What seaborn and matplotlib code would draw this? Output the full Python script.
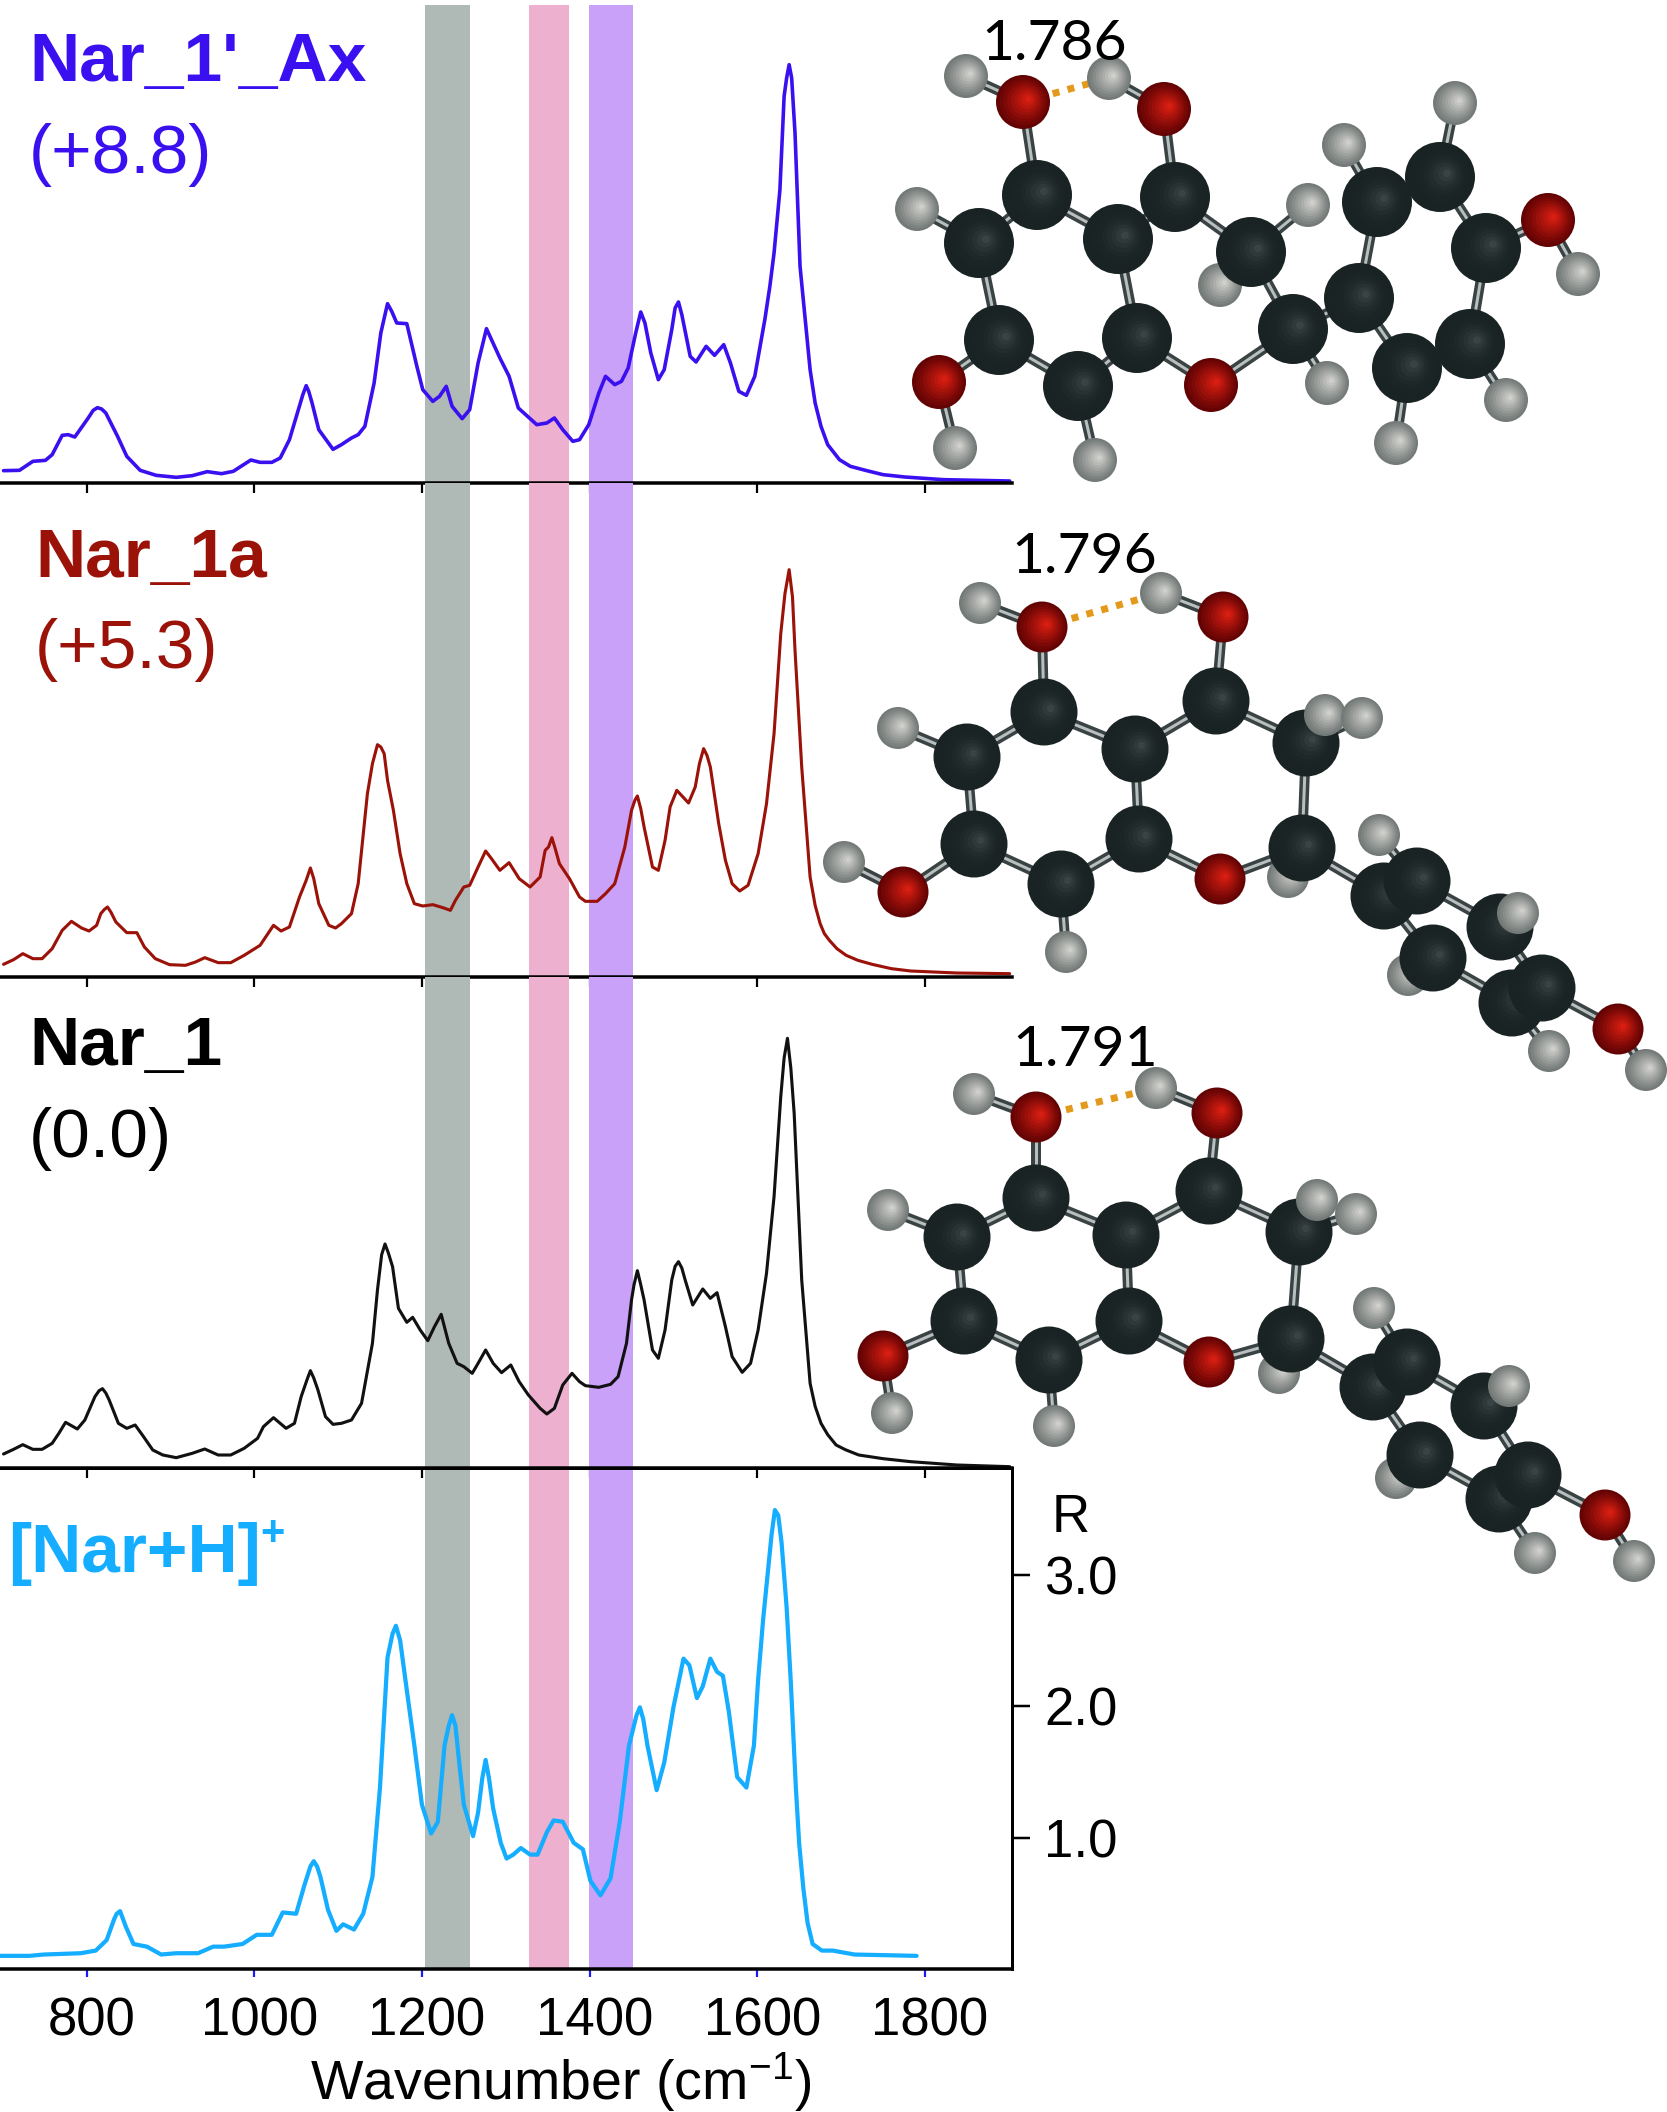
import numpy as np
import seaborn as sns
import matplotlib.pyplot as plt
from matplotlib.patches import Circle
from matplotlib.transforms import ScaledTranslation

# spectra, computed panels in arbitrary units
wn_ax = [701,720,736,751,759,771,778,786,802,808,813,818,823,837,848,864,883,907,926,944,961,975,996,1007,1021,1031,1042,1058,1062,1065,1069,1077,1094,1104,1116,1124,1132,1143,1151,1159,1164,1170,1182,1194,1201,1213,1221,1229,1236,1248,1257,1267,1277,1293,1304,1315,1337,1349,1358,1368,1380,1388,1399,1411,1419,1430,1438,1446,1455,1461,1466,1473,1482,1489,1498,1502,1506,1510,1520,1527,1539,1549,1560,1568,1578,1587,1597,1609,1615,1620,1627,1632,1635,1638,1641,1645,1651,1663,1669,1676,1684,1698,1711,1729,1750,1776,1822,1901]
int_ax = [37,38,65,68,85,143,145,138,195,218,226,222,210,140,80,38,23,17,22,34,28,35,69,62,62,75,130,265,292,275,240,160,101,115,135,145,170,300,450,538,515,480,478,350,280,245,260,290,230,193,220,360,463,375,320,225,175,180,195,160,125,130,175,270,320,295,305,345,450,513,480,390,310,340,460,525,543,505,380,363,410,383,415,360,275,263,320,490,590,690,880,1160,1215,1255,1215,1050,650,340,240,170,115,70,50,38,25,18,10,6]

wn_1a = [701,713,724,736,747,759,771,782,794,803,812,817,821,825,829,835,848,860,869,882,899,918,930,941,957,972,988,1000,1007,1023,1032,1042,1054,1062,1067,1071,1077,1089,1097,1104,1116,1124,1135,1141,1147,1151,1155,1159,1166,1174,1182,1191,1201,1213,1225,1234,1240,1250,1257,1267,1276,1283,1293,1304,1316,1329,1341,1347,1351,1355,1359,1364,1376,1388,1395,1409,1419,1430,1442,1450,1454,1457,1461,1465,1475,1482,1490,1496,1504,1518,1526,1531,1536,1540,1544,1554,1562,1570,1579,1589,1601,1611,1620,1628,1633,1638,1642,1645,1653,1663,1669,1675,1680,1686,1695,1706,1720,1737,1760,1783,1838,1901]
int_1a = [38,52,70,55,55,85,140,167,147,138,155,190,202,210,195,165,133,133,90,55,37,35,45,58,43,43,65,84,95,155,138,150,240,290,327,295,220,155,147,160,190,280,550,640,697,690,670,590,500,370,280,220,213,217,208,200,230,270,275,330,378,355,320,343,295,270,300,380,390,418,385,340,295,240,227,227,250,280,390,500,530,543,505,450,330,320,410,510,560,522,570,640,685,665,630,460,350,280,258,275,370,520,730,1030,1150,1222,1140,980,630,300,215,160,130,110,85,65,50,38,25,18,12,10]

wn_1 = [701,713,724,736,747,759,767,775,789,798,810,815,819,823,827,838,848,858,868,879,891,907,926,941,957,972,988,1004,1011,1023,1038,1048,1056,1063,1067,1071,1076,1085,1094,1104,1116,1128,1141,1147,1152,1156,1160,1165,1172,1182,1189,1198,1207,1215,1223,1232,1242,1250,1260,1267,1276,1285,1295,1306,1316,1327,1341,1349,1358,1368,1379,1388,1395,1411,1425,1434,1444,1450,1453,1457,1461,1465,1475,1482,1490,1498,1502,1506,1510,1514,1523,1535,1544,1552,1562,1570,1582,1592,1601,1611,1620,1628,1632,1636,1640,1644,1653,1663,1669,1676,1684,1694,1705,1721,1750,1783,1838,1901]
int_1 = [42,56,70,56,56,74,104,137,117,144,214,232,238,225,204,134,119,129,94,54,39,31,44,57,39,39,59,89,124,151,119,134,214,265,292,270,234,154,131,134,144,194,374,534,640,672,645,604,479,437,452,414,382,424,461,374,314,304,284,314,354,314,286,309,259,219,179,162,179,249,284,259,247,242,251,274,374,504,550,592,550,504,354,329,414,564,605,619,600,564,489,537,509,526,424,334,287,314,414,584,814,1114,1230,1289,1200,1064,564,254,185,134,100,69,55,39,28,19,9,4]

# measured spectrum, R
wn_h = [697,732,749,793,811,824,833,836,840,847,856,872,889,907,933,951,964,986,1003,1021,1034,1050,1060,1067,1071,1075,1079,1088,1098,1106,1119,1130,1141,1150,1159,1165,1169,1174,1182,1191,1200,1211,1219,1227,1232,1236,1240,1244,1250,1261,1267,1272,1276,1280,1285,1294,1301,1309,1318,1329,1338,1349,1357,1368,1381,1392,1401,1413,1425,1436,1447,1456,1460,1464,1469,1480,1489,1500,1512,1519,1528,1535,1544,1552,1559,1566,1576,1587,1596,1601,1607,1617,1621,1625,1629,1635,1640,1646,1650,1655,1660,1666,1677,1690,1716,1790]
r_h = [0.10,0.10,0.11,0.12,0.14,0.22,0.38,0.42,0.44,0.32,0.19,0.17,0.11,0.12,0.12,0.17,0.17,0.19,0.26,0.26,0.43,0.42,0.64,0.78,0.82,0.78,0.70,0.45,0.29,0.34,0.30,0.42,0.70,1.38,2.37,2.55,2.61,2.50,2.12,1.70,1.25,1.03,1.12,1.70,1.85,1.93,1.85,1.60,1.25,1.01,1.19,1.45,1.59,1.45,1.22,0.96,0.84,0.87,0.92,0.87,0.87,1.04,1.13,1.12,0.96,0.91,0.67,0.56,0.69,1.12,1.70,1.93,1.99,1.90,1.70,1.36,1.57,1.99,2.36,2.31,2.06,2.15,2.36,2.26,2.23,1.96,1.46,1.38,1.70,2.20,2.66,3.30,3.49,3.45,3.24,2.75,2.18,1.38,0.95,0.61,0.35,0.19,0.14,0.14,0.11,0.10]

bands = [(1204, 1257, '#afb9b5'), (1328, 1376, '#eeb0cf'), (1399, 1452, '#c9a1f8')]
x_ticks = [800, 1000, 1200, 1400, 1600, 1800]
r_ticks = [1, 2, 3]

# molecule pictures, atoms in draw order
kinds = list('HOHOHCCCCCHHCCHCOCOHHHCCCHHCCCOHH')
kinds_ax = list('HOHOHHHHCCOHCCCCCHHOCCHCOHCHCCCCH')
mol_ax = [(966,76),(1023,102),(1109,78),(1164,109),(1455,103),(1344,145),(1220,285),(1327,383),(1440,177),(1377,202),(1548,220),(1578,274),(1486,248),(1359,298),(1293,329),(1470,344),(1407,368),(1506,400),(1396,443),(1211,385),(1137,338),(1078,386),(1095,460),(999,340),(939,382),(955,448),(979,243),(917,209),(1037,195),(1118,239),(1175,197),(1251,252),(1308,205)]
bonds_ax = [(0,1),(1,28),(2,3),(3,30),(4,8),(5,9),(6,31),(7,14),(8,9),(8,12),(9,13),(10,12),(10,11),(12,15),(13,14),(13,16),(15,16),(15,17),(16,18),(14,19),(14,31),(19,20),(20,21),(21,22),(21,23),(23,24),(24,25),(23,26),(26,27),(26,28),(28,29),(29,30),(29,20),(30,31),(31,32)]
mol_1a = [(980,603),(1042,627),(1161,593),(1223,617),(898,728),(1044,712),(1216,701),(967,757),(1135,749),(1306,743),(1325,715),(1362,718),(974,844),(1139,839),(1288,877),(1302,848),(1220,879),(1061,884),(903,892),(844,862),(1066,952),(1379,835),(1384,896),(1417,881),(1500,927),(1518,913),(1408,975),(1433,958),(1512,1003),(1542,988),(1618,1029),(1549,1051),(1646,1070)]
mol_1 = [(974,1094),(1036,1117),(1156,1088),(1217,1113),(888,1210),(1036,1198),(1209,1191),(957,1237),(1126,1235),(1299,1232),(1317,1200),(1356,1214),(964,1321),(1129,1321),(1279,1373),(1291,1339),(1209,1362),(1049,1360),(883,1356),(892,1413),(1054,1426),(1374,1308),(1373,1387),(1407,1362),(1484,1406),(1509,1386),(1396,1478),(1420,1455),(1499,1499),(1528,1475),(1605,1515),(1535,1553),(1634,1561)]
bonds_c = [(0,1),(1,5),(2,3),(3,6),(4,7),(5,7),(5,8),(6,8),(6,9),(7,12),(8,13),(9,10),(9,11),(9,15),(12,17),(17,13),(13,16),(16,15),(12,18),(18,19),(17,20),(15,14),(15,22),(22,27),(23,24),(24,29),(27,28),(28,29),(22,23),(21,23),(24,25),(27,26),(28,31),(29,30),(30,32)]
distances = ['1.786', '1.796', '1.791']
dist_pos = [(981, 60), (1011, 573), (1012, 1066)]

W, H = 1667, 2112
AX_W = 1012
sns.set_theme(style='white')
plt.rcParams['font.family'] = ['Liberation Sans', 'DejaVu Sans']
plt.rcParams['mathtext.default'] = 'regular'
px = 0.72  # points per pixel at dpi 100

fig = plt.figure(figsize=(W / 100, H / 100), dpi=100)
xlim = (696.8, 1903.8)


def panel(top, bottom, x, y, color, ymax, lw):
    ax = fig.add_axes([0, 1 - bottom / H, AX_W / W, (bottom - top) / H])
    for lo, hi, c in bands:
        ax.axvspan(lo, hi, color=c, lw=0, zorder=0)
    sns.lineplot(x=x, y=y, ax=ax, color=color, lw=lw * px, estimator=None, sort=False, errorbar=None, zorder=3)
    ax.set_xlim(xlim)
    ax.set_ylim(0, ymax)
    ax.set_xticks(x_ticks)
    ax.set_yticks([])
    ax.set_xlabel('')
    ax.set_ylabel('')
    ax.patch.set_alpha(0)
    sns.despine(ax=ax, left=True, right=True, top=True)
    ax.spines['bottom'].set_color('black')
    ax.spines['bottom'].set_linewidth(3.5 * px)
    ax.spines['bottom'].set_zorder(4)
    ax.tick_params(axis='x', bottom=True, length=10 * px, width=2.2 * px, color='black', labelbottom=False)
    return ax


panel(5, 483, wn_ax, int_ax, '#3a10f0', 1434, 3.6)
panel(483, 977, wn_1a, int_1a, '#9b1208', 1482, 3.1)
panel(977, 1468, wn_1, int_1, '#111111', 1473, 3.1)
ax = panel(1468, 1969, wn_h, r_h, '#14adff', 3.81, 4.2)

ax.spines['top'].set_visible(True)
ax.spines['top'].set_color('black')
ax.spines['top'].set_linewidth(3 * px)
ax.spines['right'].set_visible(True)
ax.spines['right'].set_color('black')
ax.spines['right'].set_linewidth(3 * px)
ax.tick_params(axis='x', length=8 * px, width=2.2 * px, color='#1a1aff', labelbottom=True,
               labelsize=38, pad=14, labelcolor='black')
ax.set_yticks(r_ticks)
ax.set_yticklabels(['%.1f' % v for v in r_ticks])
ax.yaxis.tick_right()
ax.tick_params(axis='y', right=True, length=18 * px, width=2.5 * px, color='black',
               labelsize=38, pad=10, labelcolor='black')
shift = ScaledTranslation(5 / 100, 0, fig.dpi_scale_trans)
for lab in ax.get_xticklabels():
    lab.set_transform(lab.get_transform() + shift)
ax.set_xlabel('Wavenumber (cm$^{-1}$)', fontsize=40, color='black', va='baseline')
ax.xaxis.set_label_coords(561 / AX_W, (1969 - 2100) / 501)

# overlay in figure pixels for the molecules and the labels
ov = fig.add_axes([0, 0, 1, 1], zorder=10)
ov.set_xlim(0, W)
ov.set_ylim(H, 0)
ov.axis('off')

shades = {'C': ('#1a2323', '#434e4e'), 'O': ('#640303', '#e82214'), 'H': ('#747a78', '#dcdcd8')}


def blend(a, b, t):
    ca = np.array(plt.matplotlib.colors.to_rgb(a))
    cb = np.array(plt.matplotlib.colors.to_rgb(b))
    return ca + (cb - ca) * t


def draw_atom(x, y, kind, sizes, z):
    r = sizes[kind] / 2
    lo, hi = shades[kind]
    n = 9
    for i in range(n):
        t = i / n
        tone = t ** (2.6 if kind == 'C' else 1.1)
        ov.add_patch(Circle((x + 0.22 * r * t, y - 0.12 * r * t), r * (1 - t), fc=blend(lo, hi, tone), ec='none', zorder=z))


def draw_molecule(pts, atom_kinds, bonds, sizes):
    for a, b in bonds:
        xs = [pts[a][0], pts[b][0]]
        ys = [pts[a][1], pts[b][1]]
        ov.plot(xs, ys, color='#3a4343', lw=10 * px, solid_capstyle='butt', zorder=2)
        ov.plot(xs, ys, color='#b9bfbe', lw=3 * px, solid_capstyle='butt', zorder=2.1)
    ov.plot([pts[1][0], pts[2][0]], [pts[1][1], pts[2][1]], color='#e39a1c', lw=7 * px,
            ls=(0, (1, 1.2)), zorder=2.2)
    for i, (p, k) in enumerate(zip(pts, atom_kinds)):
        draw_atom(p[0], p[1], k, sizes, 3 + i * 0.01)


draw_molecule(mol_ax, kinds_ax, bonds_ax, {'C': 70, 'O': 54, 'H': 44})
draw_molecule(mol_1a, kinds, bonds_c, {'C': 67, 'O': 51, 'H': 42})
draw_molecule(mol_1, kinds, bonds_c, {'C': 67, 'O': 51, 'H': 42})

for s, (x, y) in zip(distances, dist_pos):
    ov.text(x, y, s, fontsize=41, family='Lato', color='black', va='baseline', ha='left', zorder=6)

labels = [("Nar_1'_Ax", '(+8.8)', 29, 81, 173, '#3a10f0'),
          ('Nar_1a', '(+5.3)', 35, 577, 668, '#9b1208'),
          ('Nar_1', '(0.0)', 29, 1065, 1157, 'black')]
for name, energy, x, y1, y2, c in labels:
    ov.text(x, y1, name, fontsize=50, fontweight='bold', color=c, va='baseline', ha='left', zorder=6)
    ov.text(x, y2, energy, fontsize=50, color=c, va='baseline', ha='left', zorder=6)
ov.text(8, 1572, '[Nar+H]', fontsize=50, fontweight='bold', color='#14adff', va='baseline', ha='left', zorder=6)
ov.text(260, 1545, '+', fontsize=30, fontweight='bold', color='#14adff', va='baseline', ha='left', zorder=6)
ov.text(1052, 1532, 'R', fontsize=38, color='black', va='baseline', ha='left', zorder=6)

fig.savefig('out.png', dpi=100)
